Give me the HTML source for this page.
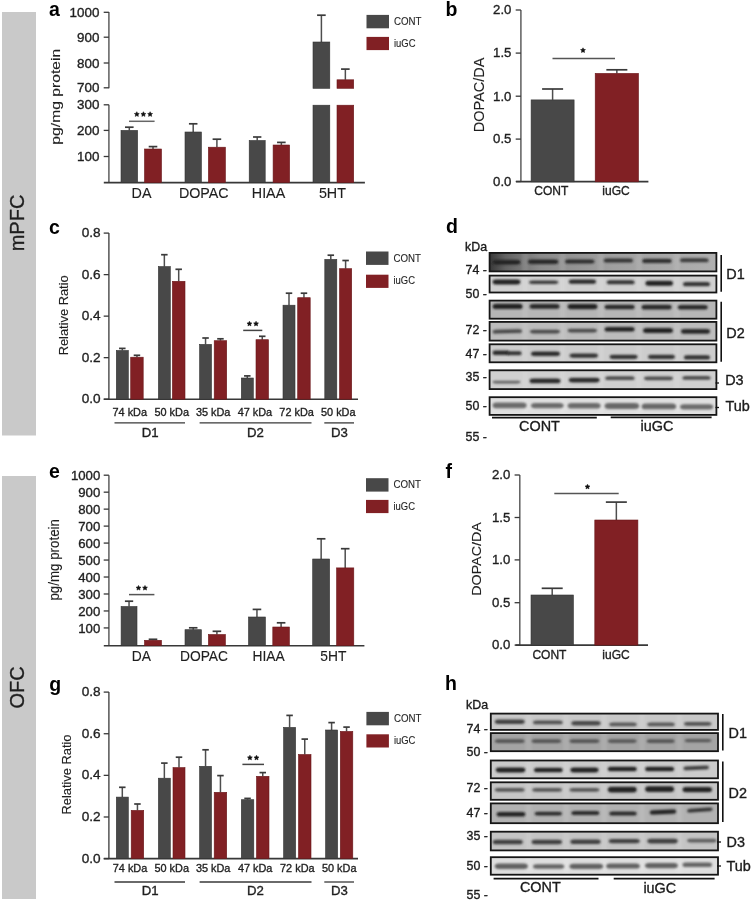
<!DOCTYPE html><html><head><meta charset="utf-8"><style>html,body{margin:0;padding:0;background:#fff;}svg{display:block;filter:blur(0.3px);}text{opacity:0.995;font-family:"Liberation Sans",sans-serif;stroke:#1e1e1e;stroke-width:0.35px;paint-order:stroke;}</style></head><body>
<svg width="752" height="902" viewBox="0 0 752 902">
<defs><filter id="bl" x="-20%" y="-100%" width="140%" height="300%"><feGaussianBlur stdDeviation="0.8"/></filter><filter id="bl2" x="-20%" y="-100%" width="140%" height="300%"><feGaussianBlur stdDeviation="0.7"/></filter></defs>
<rect x="0" y="0" width="752" height="902" fill="#fff" />
<rect x="2" y="12" width="34" height="423.5" fill="#c9c9c9" />
<rect x="2" y="476" width="34" height="423" fill="#c9c9c9" />
<text transform="translate(24.3,223) rotate(-90)" x="0" y="0" font-size="20" text-anchor="middle" fill="#1e1e1e" >mPFC</text>
<text transform="translate(24.3,687.5) rotate(-90)" x="0" y="0" font-size="20" text-anchor="middle" fill="#1e1e1e" >OFC</text>
<text x="49" y="16.0" font-size="19.5" text-anchor="start" fill="#000" font-weight="bold" style="stroke-width:0">a</text>
<text x="445.6" y="15.9" font-size="19.5" text-anchor="start" fill="#000" font-weight="bold" style="stroke-width:0">b</text>
<text x="49.0" y="233.7" font-size="19.5" text-anchor="start" fill="#000" font-weight="bold" style="stroke-width:0">c</text>
<text x="446" y="232.8" font-size="19.5" text-anchor="start" fill="#000" font-weight="bold" style="stroke-width:0">d</text>
<text x="49" y="477.6" font-size="19.5" text-anchor="start" fill="#000" font-weight="bold" style="stroke-width:0">e</text>
<text x="445.6" y="478" font-size="19.5" text-anchor="start" fill="#000" font-weight="bold" style="stroke-width:0">f</text>
<text x="49.2" y="690.6" font-size="19.5" text-anchor="start" fill="#000" font-weight="bold" style="stroke-width:0">g</text>
<text x="445" y="690.4" font-size="19.5" text-anchor="start" fill="#000" font-weight="bold" style="stroke-width:0">h</text>
<line x1="108.9" y1="12" x2="108.9" y2="88.3" stroke="#5e5e5e" stroke-width="1.5"/>
<line x1="108.9" y1="104.8" x2="108.9" y2="182.3" stroke="#5e5e5e" stroke-width="1.5"/>
<line x1="103.7" y1="12.3" x2="108.9" y2="12.3" stroke="#383838" stroke-width="1.3"/>
<text x="99.4" y="16.9" font-size="13.4" text-anchor="end" fill="#1e1e1e" >1000</text>
<line x1="103.7" y1="37.2" x2="108.9" y2="37.2" stroke="#383838" stroke-width="1.3"/>
<text x="99.4" y="41.8" font-size="13.4" text-anchor="end" fill="#1e1e1e" >900</text>
<line x1="103.7" y1="63" x2="108.9" y2="63" stroke="#383838" stroke-width="1.3"/>
<text x="99.4" y="67.6" font-size="13.4" text-anchor="end" fill="#1e1e1e" >800</text>
<line x1="103.7" y1="87.8" x2="108.9" y2="87.8" stroke="#383838" stroke-width="1.3"/>
<text x="99.4" y="92.4" font-size="13.4" text-anchor="end" fill="#1e1e1e" >700</text>
<line x1="103.7" y1="104.8" x2="108.9" y2="104.8" stroke="#383838" stroke-width="1.3"/>
<text x="99.4" y="109.2" font-size="13.4" text-anchor="end" fill="#1e1e1e" >300</text>
<line x1="103.7" y1="130.4" x2="108.9" y2="130.4" stroke="#383838" stroke-width="1.3"/>
<text x="99.4" y="134.8" font-size="13.4" text-anchor="end" fill="#1e1e1e" >200</text>
<line x1="103.7" y1="156.5" x2="108.9" y2="156.5" stroke="#383838" stroke-width="1.3"/>
<text x="99.4" y="160.9" font-size="13.4" text-anchor="end" fill="#1e1e1e" >100</text>
<line x1="103.8" y1="182.6" x2="364.9" y2="182.6" stroke="#383838" stroke-width="1.6"/>
<line x1="129.3" y1="130.4" x2="129.3" y2="127.2" stroke="#4e4e4e" stroke-width="1.5"/>
<line x1="125.00000000000001" y1="127.2" x2="133.60000000000002" y2="127.2" stroke="#3a3a3a" stroke-width="1.7"/>
<rect x="121" y="130.4" width="16.599999999999994" height="52.19999999999999" fill="#484848" stroke="#333333" stroke-width="0.6"/>
<line x1="153.0" y1="149" x2="153.0" y2="146.6" stroke="#4e4e4e" stroke-width="1.5"/>
<line x1="148.7" y1="146.6" x2="157.3" y2="146.6" stroke="#3a3a3a" stroke-width="1.7"/>
<rect x="144.5" y="149" width="17.0" height="33.599999999999994" fill="#812024" stroke="#6a171a" stroke-width="0.6"/>
<line x1="193.2" y1="132" x2="193.2" y2="123.8" stroke="#4e4e4e" stroke-width="1.5"/>
<line x1="188.93599999999998" y1="123.8" x2="197.464" y2="123.8" stroke="#3a3a3a" stroke-width="1.7"/>
<rect x="185" y="132" width="16.400000000000006" height="50.599999999999994" fill="#484848" stroke="#333333" stroke-width="0.6"/>
<line x1="216.9" y1="147.2" x2="216.9" y2="139.2" stroke="#4e4e4e" stroke-width="1.5"/>
<line x1="212.6" y1="139.2" x2="221.20000000000002" y2="139.2" stroke="#3a3a3a" stroke-width="1.7"/>
<rect x="208.4" y="147.2" width="17.0" height="35.400000000000006" fill="#812024" stroke="#6a171a" stroke-width="0.6"/>
<line x1="257.2" y1="140.5" x2="257.2" y2="137" stroke="#4e4e4e" stroke-width="1.5"/>
<line x1="253.04" y1="137" x2="261.36" y2="137" stroke="#3a3a3a" stroke-width="1.7"/>
<rect x="249.2" y="140.5" width="16.0" height="42.099999999999994" fill="#484848" stroke="#333333" stroke-width="0.6"/>
<line x1="281.35" y1="145" x2="281.35" y2="142.4" stroke="#4e4e4e" stroke-width="1.5"/>
<line x1="277.06" y1="142.4" x2="285.64000000000004" y2="142.4" stroke="#3a3a3a" stroke-width="1.7"/>
<rect x="273.1" y="145" width="16.5" height="37.599999999999994" fill="#812024" stroke="#6a171a" stroke-width="0.6"/>
<rect x="313" y="105.2" width="16.80000000000001" height="77.39999999999999" fill="#484848" stroke="#333333" stroke-width="0.6"/>
<rect x="337" y="105.2" width="16.69999999999999" height="77.39999999999999" fill="#812024" stroke="#6a171a" stroke-width="0.6"/>
<line x1="321.4" y1="42" x2="321.4" y2="15.2" stroke="#4e4e4e" stroke-width="1.5"/>
<line x1="317.09999999999997" y1="15.2" x2="325.7" y2="15.2" stroke="#3a3a3a" stroke-width="1.7"/>
<rect x="313" y="42" width="16.80000000000001" height="46.3" fill="#484848" stroke="#333333" stroke-width="0.6"/>
<line x1="345.35" y1="79.8" x2="345.35" y2="69.1" stroke="#4e4e4e" stroke-width="1.5"/>
<line x1="341.05" y1="69.1" x2="349.65000000000003" y2="69.1" stroke="#3a3a3a" stroke-width="1.7"/>
<rect x="337" y="79.8" width="16.69999999999999" height="8.5" fill="#812024" stroke="#6a171a" stroke-width="0.6"/>
<line x1="129" y1="121.3" x2="154.6" y2="121.3" stroke="#666" stroke-width="1.5"/>
<polygon points="136.80,111.70 137.56,113.25 139.27,113.50 138.04,114.70 138.33,116.40 136.80,115.60 135.27,116.40 135.56,114.70 134.33,113.50 136.04,113.25" fill="#111" stroke="#111" stroke-width="0.5" stroke-linejoin="round"/>
<polygon points="143.40,111.70 144.16,113.25 145.87,113.50 144.64,114.70 144.93,116.40 143.40,115.60 141.87,116.40 142.16,114.70 140.93,113.50 142.64,113.25" fill="#111" stroke="#111" stroke-width="0.5" stroke-linejoin="round"/>
<polygon points="150.10,111.70 150.86,113.25 152.57,113.50 151.34,114.70 151.63,116.40 150.10,115.60 148.57,116.40 148.86,114.70 147.63,113.50 149.34,113.25" fill="#111" stroke="#111" stroke-width="0.5" stroke-linejoin="round"/>
<text x="141.5" y="197.6" font-size="14.3" text-anchor="middle" fill="#1e1e1e" style="stroke-width:0.12px">DA</text>
<text x="203.8" y="197.6" font-size="14.3" text-anchor="middle" fill="#1e1e1e" style="stroke-width:0.12px">DOPAC</text>
<text x="268.5" y="197.6" font-size="14.3" text-anchor="middle" fill="#1e1e1e" style="stroke-width:0.12px">HIAA</text>
<text x="332.4" y="197.6" font-size="14.3" text-anchor="middle" fill="#1e1e1e" style="stroke-width:0.12px">5HT</text>
<text transform="translate(59.5,96.7) rotate(-90)" x="0" y="0" font-size="12.6" text-anchor="middle" fill="#1e1e1e" textLength="96" lengthAdjust="spacingAndGlyphs" style="stroke-width:0.12px">pg/mg protein</text>
<rect x="366.5" y="14.9" width="22.5" height="13.4" fill="#484848" />
<rect x="366.5" y="36.9" width="22.5" height="13.2" fill="#812024" />
<text x="394.0" y="25.2" font-size="10" text-anchor="start" fill="#1e1e1e" textLength="27.5" lengthAdjust="spacingAndGlyphs" style="stroke-width:0.1px">CONT</text>
<text x="394.0" y="47.4" font-size="10" text-anchor="start" fill="#1e1e1e" textLength="21.5" lengthAdjust="spacingAndGlyphs" style="stroke-width:0.1px">iuGC</text>
<line x1="520.9" y1="10" x2="520.9" y2="181.8" stroke="#5e5e5e" stroke-width="1.5"/>
<line x1="515.6999999999999" y1="10" x2="520.9" y2="10" stroke="#383838" stroke-width="1.3"/>
<text x="511.3999999999999" y="14.33" font-size="13.2" text-anchor="end" fill="#1e1e1e" >2.0</text>
<line x1="515.6999999999999" y1="53.1" x2="520.9" y2="53.1" stroke="#383838" stroke-width="1.3"/>
<text x="511.3999999999999" y="57.43" font-size="13.2" text-anchor="end" fill="#1e1e1e" >1.5</text>
<line x1="515.6999999999999" y1="96.2" x2="520.9" y2="96.2" stroke="#383838" stroke-width="1.3"/>
<text x="511.3999999999999" y="100.53" font-size="13.2" text-anchor="end" fill="#1e1e1e" >1.0</text>
<line x1="515.6999999999999" y1="139.1" x2="520.9" y2="139.1" stroke="#383838" stroke-width="1.3"/>
<text x="511.3999999999999" y="143.43" font-size="13.2" text-anchor="end" fill="#1e1e1e" >0.5</text>
<line x1="515.6999999999999" y1="181.5" x2="520.9" y2="181.5" stroke="#383838" stroke-width="1.3"/>
<text x="511.3999999999999" y="185.83" font-size="13.2" text-anchor="end" fill="#1e1e1e" >0.0</text>
<line x1="516" y1="181.6" x2="648.4" y2="181.6" stroke="#383838" stroke-width="1.6"/>
<line x1="552.6" y1="99.9" x2="552.6" y2="89" stroke="#4e4e4e" stroke-width="1.5"/>
<line x1="542.1" y1="89" x2="563.1" y2="89" stroke="#3a3a3a" stroke-width="1.7"/>
<rect x="531.1" y="99.9" width="43.0" height="81.9" fill="#484848" stroke="#333333" stroke-width="0.6"/>
<line x1="616.85" y1="73.4" x2="616.85" y2="69.8" stroke="#4e4e4e" stroke-width="1.5"/>
<line x1="606.35" y1="69.8" x2="627.35" y2="69.8" stroke="#3a3a3a" stroke-width="1.7"/>
<rect x="595.2" y="73.4" width="43.299999999999955" height="108.4" fill="#812024" stroke="#6a171a" stroke-width="0.6"/>
<line x1="552.5" y1="58.5" x2="615" y2="58.5" stroke="#555" stroke-width="1.5"/>
<polygon points="583.00,47.80 583.76,49.35 585.47,49.60 584.24,50.80 584.53,52.50 583.00,51.70 581.47,52.50 581.76,50.80 580.53,49.60 582.24,49.35" fill="#111" stroke="#111" stroke-width="0.5" stroke-linejoin="round"/>
<text x="551.3" y="195.1" font-size="12" text-anchor="middle" fill="#1e1e1e" >CONT</text>
<text x="616" y="195.1" font-size="12" text-anchor="middle" fill="#1e1e1e" >iuGC</text>
<text transform="translate(484.4,94.9) rotate(-90)" x="0" y="0" font-size="14" text-anchor="middle" fill="#1e1e1e" textLength="74.5" lengthAdjust="spacingAndGlyphs" style="stroke-width:0.12px">DOPAC/DA</text>
<line x1="108.9" y1="233.1" x2="108.9" y2="399.2" stroke="#383838" stroke-width="1.3"/>
<line x1="103.7" y1="233.1" x2="108.9" y2="233.1" stroke="#383838" stroke-width="1.3"/>
<text x="100.6" y="237.17" font-size="13.6" text-anchor="end" fill="#1e1e1e" >0.8</text>
<line x1="103.7" y1="274.62" x2="108.9" y2="274.62" stroke="#383838" stroke-width="1.3"/>
<text x="100.6" y="278.69" font-size="13.6" text-anchor="end" fill="#1e1e1e" >0.6</text>
<line x1="103.7" y1="316.14" x2="108.9" y2="316.14" stroke="#383838" stroke-width="1.3"/>
<text x="100.6" y="320.21" font-size="13.6" text-anchor="end" fill="#1e1e1e" >0.4</text>
<line x1="103.7" y1="357.65999999999997" x2="108.9" y2="357.65999999999997" stroke="#383838" stroke-width="1.3"/>
<text x="100.6" y="361.73" font-size="13.6" text-anchor="end" fill="#1e1e1e" >0.2</text>
<line x1="103.7" y1="399.18" x2="108.9" y2="399.18" stroke="#383838" stroke-width="1.3"/>
<text x="100.6" y="403.25" font-size="13.6" text-anchor="end" fill="#1e1e1e" >0.0</text>
<line x1="103.8" y1="399.2" x2="358" y2="399.2" stroke="#383838" stroke-width="1.6"/>
<line x1="122.30000000000001" y1="350.5" x2="122.30000000000001" y2="348.4" stroke="#4e4e4e" stroke-width="1.5"/>
<line x1="119.05000000000001" y1="348.4" x2="125.55000000000001" y2="348.4" stroke="#3a3a3a" stroke-width="1.7"/>
<rect x="116.3" y="350.5" width="12.000000000000014" height="48.69999999999999" fill="#484848" stroke="#333333" stroke-width="0.6"/>
<line x1="136.95" y1="357.2" x2="136.95" y2="355.3" stroke="#4e4e4e" stroke-width="1.5"/>
<line x1="133.7" y1="355.3" x2="140.2" y2="355.3" stroke="#3a3a3a" stroke-width="1.7"/>
<rect x="130.7" y="357.2" width="12.5" height="42.0" fill="#812024" stroke="#6a171a" stroke-width="0.6"/>
<line x1="164.35000000000002" y1="266.6" x2="164.35000000000002" y2="254.7" stroke="#4e4e4e" stroke-width="1.5"/>
<line x1="161.10000000000002" y1="254.7" x2="167.60000000000002" y2="254.7" stroke="#3a3a3a" stroke-width="1.7"/>
<rect x="158.4" y="266.6" width="11.900000000000006" height="132.59999999999997" fill="#484848" stroke="#333333" stroke-width="0.6"/>
<line x1="178.7" y1="281.3" x2="178.7" y2="269.3" stroke="#4e4e4e" stroke-width="1.5"/>
<line x1="175.45" y1="269.3" x2="181.95" y2="269.3" stroke="#3a3a3a" stroke-width="1.7"/>
<rect x="172.4" y="281.3" width="12.599999999999994" height="117.89999999999998" fill="#812024" stroke="#6a171a" stroke-width="0.6"/>
<line x1="205.55" y1="344.4" x2="205.55" y2="338" stroke="#4e4e4e" stroke-width="1.5"/>
<line x1="202.3" y1="338" x2="208.8" y2="338" stroke="#3a3a3a" stroke-width="1.7"/>
<rect x="199.6" y="344.4" width="11.900000000000006" height="54.80000000000001" fill="#484848" stroke="#333333" stroke-width="0.6"/>
<line x1="220.45" y1="340.7" x2="220.45" y2="338.8" stroke="#4e4e4e" stroke-width="1.5"/>
<line x1="217.2" y1="338.8" x2="223.7" y2="338.8" stroke="#3a3a3a" stroke-width="1.7"/>
<rect x="214.2" y="340.7" width="12.5" height="58.5" fill="#812024" stroke="#6a171a" stroke-width="0.6"/>
<line x1="247.3" y1="378" x2="247.3" y2="375.9" stroke="#4e4e4e" stroke-width="1.5"/>
<line x1="244.05" y1="375.9" x2="250.55" y2="375.9" stroke="#3a3a3a" stroke-width="1.7"/>
<rect x="241.3" y="378" width="12.0" height="21.19999999999999" fill="#484848" stroke="#333333" stroke-width="0.6"/>
<line x1="262.25" y1="339.7" x2="262.25" y2="336.3" stroke="#4e4e4e" stroke-width="1.5"/>
<line x1="259.0" y1="336.3" x2="265.5" y2="336.3" stroke="#3a3a3a" stroke-width="1.7"/>
<rect x="256" y="339.7" width="12.5" height="59.5" fill="#812024" stroke="#6a171a" stroke-width="0.6"/>
<line x1="289.0" y1="305.2" x2="289.0" y2="293.2" stroke="#4e4e4e" stroke-width="1.5"/>
<line x1="285.75" y1="293.2" x2="292.25" y2="293.2" stroke="#3a3a3a" stroke-width="1.7"/>
<rect x="283" y="305.2" width="12" height="94.0" fill="#484848" stroke="#333333" stroke-width="0.6"/>
<line x1="303.95" y1="297.7" x2="303.95" y2="293.2" stroke="#4e4e4e" stroke-width="1.5"/>
<line x1="300.7" y1="293.2" x2="307.2" y2="293.2" stroke="#3a3a3a" stroke-width="1.7"/>
<rect x="297.7" y="297.7" width="12.5" height="101.5" fill="#812024" stroke="#6a171a" stroke-width="0.6"/>
<line x1="330.8" y1="259.4" x2="330.8" y2="255.2" stroke="#4e4e4e" stroke-width="1.5"/>
<line x1="327.55" y1="255.2" x2="334.05" y2="255.2" stroke="#3a3a3a" stroke-width="1.7"/>
<rect x="324.8" y="259.4" width="12.0" height="139.8" fill="#484848" stroke="#333333" stroke-width="0.6"/>
<line x1="345.6" y1="268.7" x2="345.6" y2="260.5" stroke="#4e4e4e" stroke-width="1.5"/>
<line x1="342.35" y1="260.5" x2="348.85" y2="260.5" stroke="#3a3a3a" stroke-width="1.7"/>
<rect x="339.5" y="268.7" width="12.199999999999989" height="130.5" fill="#812024" stroke="#6a171a" stroke-width="0.6"/>
<line x1="243.2" y1="330.4" x2="262.3" y2="330.4" stroke="#444" stroke-width="1.5"/>
<polygon points="249.45,321.20 250.21,322.75 251.92,323.00 250.69,324.20 250.98,325.90 249.45,325.10 247.92,325.90 248.21,324.20 246.98,323.00 248.69,322.75" fill="#111" stroke="#111" stroke-width="0.5" stroke-linejoin="round"/>
<polygon points="256.05,321.20 256.81,322.75 258.52,323.00 257.29,324.20 257.58,325.90 256.05,325.10 254.52,325.90 254.81,324.20 253.58,323.00 255.29,322.75" fill="#111" stroke="#111" stroke-width="0.5" stroke-linejoin="round"/>
<text x="129.75" y="416.3" font-size="11.6" text-anchor="middle" fill="#1e1e1e" textLength="34.5" lengthAdjust="spacingAndGlyphs" >74 kDa</text>
<text x="171.7" y="416.3" font-size="11.6" text-anchor="middle" fill="#1e1e1e" textLength="34.5" lengthAdjust="spacingAndGlyphs" >50 kDa</text>
<text x="213.14999999999998" y="416.3" font-size="11.6" text-anchor="middle" fill="#1e1e1e" textLength="34.5" lengthAdjust="spacingAndGlyphs" >35 kDa</text>
<text x="254.9" y="416.3" font-size="11.6" text-anchor="middle" fill="#1e1e1e" textLength="34.5" lengthAdjust="spacingAndGlyphs" >47 kDa</text>
<text x="296.6" y="416.3" font-size="11.6" text-anchor="middle" fill="#1e1e1e" textLength="34.5" lengthAdjust="spacingAndGlyphs" >72 kDa</text>
<text x="338.25" y="416.3" font-size="11.6" text-anchor="middle" fill="#1e1e1e" textLength="34.5" lengthAdjust="spacingAndGlyphs" >50 kDa</text>
<line x1="114.5" y1="422.9" x2="185" y2="422.9" stroke="#383838" stroke-width="1.3"/>
<line x1="199.6" y1="422.9" x2="311.5" y2="422.9" stroke="#383838" stroke-width="1.3"/>
<line x1="324.3" y1="422.9" x2="354" y2="422.9" stroke="#383838" stroke-width="1.3"/>
<text x="150.2" y="437.2" font-size="13.2" text-anchor="middle" fill="#1e1e1e" >D1</text>
<text x="255.5" y="437.2" font-size="13.2" text-anchor="middle" fill="#1e1e1e" >D2</text>
<text x="339.5" y="437.2" font-size="13.2" text-anchor="middle" fill="#1e1e1e" >D3</text>
<text transform="translate(67.8,315.34999999999997) rotate(-90)" x="0" y="0" font-size="13.4" text-anchor="middle" fill="#1e1e1e" textLength="80" lengthAdjust="spacingAndGlyphs" style="stroke-width:0.12px">Relative Ratio</text>
<rect x="366" y="251.5" width="22.5" height="13.4" fill="#484848" />
<rect x="366" y="274.7" width="22.5" height="13.2" fill="#812024" />
<text x="393.5" y="261.5" font-size="10" text-anchor="start" fill="#1e1e1e" textLength="27.5" lengthAdjust="spacingAndGlyphs" style="stroke-width:0.1px">CONT</text>
<text x="393.5" y="284.4" font-size="10" text-anchor="start" fill="#1e1e1e" textLength="21.5" lengthAdjust="spacingAndGlyphs" style="stroke-width:0.1px">iuGC</text>
<line x1="108.9" y1="475.2" x2="108.9" y2="645.7" stroke="#5e5e5e" stroke-width="1.5"/>
<line x1="103.7" y1="475.2" x2="108.9" y2="475.2" stroke="#383838" stroke-width="1.3"/>
<text x="100.3" y="479.93" font-size="13.2" text-anchor="end" fill="#1e1e1e" >1000</text>
<line x1="103.7" y1="492.16999999999996" x2="108.9" y2="492.16999999999996" stroke="#383838" stroke-width="1.3"/>
<text x="100.3" y="496.9" font-size="13.2" text-anchor="end" fill="#1e1e1e" >900</text>
<line x1="103.7" y1="509.14" x2="108.9" y2="509.14" stroke="#383838" stroke-width="1.3"/>
<text x="100.3" y="513.87" font-size="13.2" text-anchor="end" fill="#1e1e1e" >800</text>
<line x1="103.7" y1="526.11" x2="108.9" y2="526.11" stroke="#383838" stroke-width="1.3"/>
<text x="100.3" y="530.84" font-size="13.2" text-anchor="end" fill="#1e1e1e" >700</text>
<line x1="103.7" y1="543.0799999999999" x2="108.9" y2="543.0799999999999" stroke="#383838" stroke-width="1.3"/>
<text x="100.3" y="547.81" font-size="13.2" text-anchor="end" fill="#1e1e1e" >600</text>
<line x1="103.7" y1="560.05" x2="108.9" y2="560.05" stroke="#383838" stroke-width="1.3"/>
<text x="100.3" y="564.78" font-size="13.2" text-anchor="end" fill="#1e1e1e" >500</text>
<line x1="103.7" y1="577.02" x2="108.9" y2="577.02" stroke="#383838" stroke-width="1.3"/>
<text x="100.3" y="581.75" font-size="13.2" text-anchor="end" fill="#1e1e1e" >400</text>
<line x1="103.7" y1="593.99" x2="108.9" y2="593.99" stroke="#383838" stroke-width="1.3"/>
<text x="100.3" y="598.72" font-size="13.2" text-anchor="end" fill="#1e1e1e" >300</text>
<line x1="103.7" y1="610.96" x2="108.9" y2="610.96" stroke="#383838" stroke-width="1.3"/>
<text x="100.3" y="615.69" font-size="13.2" text-anchor="end" fill="#1e1e1e" >200</text>
<line x1="103.7" y1="627.93" x2="108.9" y2="627.93" stroke="#383838" stroke-width="1.3"/>
<text x="100.3" y="632.66" font-size="13.2" text-anchor="end" fill="#1e1e1e" >100</text>
<line x1="103.8" y1="645.7" x2="364.4" y2="645.7" stroke="#383838" stroke-width="1.6"/>
<line x1="129.05" y1="606.5" x2="129.05" y2="601.2" stroke="#4e4e4e" stroke-width="1.5"/>
<line x1="124.91600000000001" y1="601.2" x2="133.18400000000003" y2="601.2" stroke="#3a3a3a" stroke-width="1.7"/>
<rect x="121.1" y="606.5" width="15.900000000000006" height="39.200000000000045" fill="#484848" stroke="#333333" stroke-width="0.6"/>
<line x1="153.0" y1="640.3" x2="153.0" y2="639.3" stroke="#4e4e4e" stroke-width="1.5"/>
<line x1="148.7" y1="639.3" x2="157.3" y2="639.3" stroke="#3a3a3a" stroke-width="1.7"/>
<rect x="144.5" y="640.3" width="17.0" height="5.400000000000091" fill="#812024" stroke="#6a171a" stroke-width="0.6"/>
<line x1="193.2" y1="629.7" x2="193.2" y2="627.8" stroke="#4e4e4e" stroke-width="1.5"/>
<line x1="188.93599999999998" y1="627.8" x2="197.464" y2="627.8" stroke="#3a3a3a" stroke-width="1.7"/>
<rect x="185" y="629.7" width="16.400000000000006" height="16.0" fill="#484848" stroke="#333333" stroke-width="0.6"/>
<line x1="216.9" y1="634.5" x2="216.9" y2="631.3" stroke="#4e4e4e" stroke-width="1.5"/>
<line x1="212.6" y1="631.3" x2="221.20000000000002" y2="631.3" stroke="#3a3a3a" stroke-width="1.7"/>
<rect x="208.4" y="634.5" width="17.0" height="11.200000000000045" fill="#812024" stroke="#6a171a" stroke-width="0.6"/>
<line x1="256.95" y1="617" x2="256.95" y2="609.4" stroke="#4e4e4e" stroke-width="1.5"/>
<line x1="252.64999999999998" y1="609.4" x2="261.25" y2="609.4" stroke="#3a3a3a" stroke-width="1.7"/>
<rect x="248.5" y="617" width="16.899999999999977" height="28.700000000000045" fill="#484848" stroke="#333333" stroke-width="0.6"/>
<line x1="281.1" y1="627" x2="281.1" y2="622.8" stroke="#4e4e4e" stroke-width="1.5"/>
<line x1="276.8" y1="622.8" x2="285.40000000000003" y2="622.8" stroke="#3a3a3a" stroke-width="1.7"/>
<rect x="272.8" y="627" width="16.599999999999966" height="18.700000000000045" fill="#812024" stroke="#6a171a" stroke-width="0.6"/>
<line x1="321.15" y1="559" x2="321.15" y2="538.8" stroke="#4e4e4e" stroke-width="1.5"/>
<line x1="316.84999999999997" y1="538.8" x2="325.45" y2="538.8" stroke="#3a3a3a" stroke-width="1.7"/>
<rect x="312.7" y="559" width="16.900000000000034" height="86.70000000000005" fill="#484848" stroke="#333333" stroke-width="0.6"/>
<line x1="345.20000000000005" y1="567.9" x2="345.20000000000005" y2="548.7" stroke="#4e4e4e" stroke-width="1.5"/>
<line x1="340.90000000000003" y1="548.7" x2="349.50000000000006" y2="548.7" stroke="#3a3a3a" stroke-width="1.7"/>
<rect x="336.6" y="567.9" width="17.19999999999999" height="77.80000000000007" fill="#812024" stroke="#6a171a" stroke-width="0.6"/>
<line x1="129" y1="594.6" x2="154.4" y2="594.6" stroke="#555" stroke-width="1.5"/>
<polygon points="138.50,585.40 139.26,586.95 140.97,587.20 139.74,588.40 140.03,590.10 138.50,589.30 136.97,590.10 137.26,588.40 136.03,587.20 137.74,586.95" fill="#111" stroke="#111" stroke-width="0.5" stroke-linejoin="round"/>
<polygon points="145.00,585.40 145.76,586.95 147.47,587.20 146.24,588.40 146.53,590.10 145.00,589.30 143.47,590.10 143.76,588.40 142.53,587.20 144.24,586.95" fill="#111" stroke="#111" stroke-width="0.5" stroke-linejoin="round"/>
<text x="141.3" y="660.6" font-size="13.8" text-anchor="middle" fill="#1e1e1e" style="stroke-width:0.12px">DA</text>
<text x="204" y="660.6" font-size="13.8" text-anchor="middle" fill="#1e1e1e" style="stroke-width:0.12px">DOPAC</text>
<text x="268.6" y="660.6" font-size="13.8" text-anchor="middle" fill="#1e1e1e" style="stroke-width:0.12px">HIAA</text>
<text x="333.4" y="660.6" font-size="13.8" text-anchor="middle" fill="#1e1e1e" style="stroke-width:0.12px">5HT</text>
<text transform="translate(59.0,559.8) rotate(-90)" x="0" y="0" font-size="14" text-anchor="middle" fill="#1e1e1e" textLength="81.5" lengthAdjust="spacingAndGlyphs" style="stroke-width:0.12px">pg/mg protein</text>
<rect x="366" y="478.2" width="22.5" height="13.4" fill="#484848" />
<rect x="366" y="499.9" width="22.5" height="13.2" fill="#812024" />
<text x="393.5" y="488.2" font-size="10" text-anchor="start" fill="#1e1e1e" textLength="27.5" lengthAdjust="spacingAndGlyphs" style="stroke-width:0.1px">CONT</text>
<text x="393.5" y="509.7" font-size="10" text-anchor="start" fill="#1e1e1e" textLength="21.5" lengthAdjust="spacingAndGlyphs" style="stroke-width:0.1px">iuGC</text>
<line x1="519.8" y1="475" x2="519.8" y2="645.1" stroke="#5e5e5e" stroke-width="1.5"/>
<line x1="514.5999999999999" y1="475" x2="519.8" y2="475" stroke="#383838" stroke-width="1.3"/>
<text x="510.2999999999999" y="479.33" font-size="13.2" text-anchor="end" fill="#1e1e1e" >2.0</text>
<line x1="514.5999999999999" y1="517.5" x2="519.8" y2="517.5" stroke="#383838" stroke-width="1.3"/>
<text x="510.2999999999999" y="521.83" font-size="13.2" text-anchor="end" fill="#1e1e1e" >1.5</text>
<line x1="514.5999999999999" y1="559.9" x2="519.8" y2="559.9" stroke="#383838" stroke-width="1.3"/>
<text x="510.2999999999999" y="564.23" font-size="13.2" text-anchor="end" fill="#1e1e1e" >1.0</text>
<line x1="514.5999999999999" y1="602.7" x2="519.8" y2="602.7" stroke="#383838" stroke-width="1.3"/>
<text x="510.2999999999999" y="607.03" font-size="13.2" text-anchor="end" fill="#1e1e1e" >0.5</text>
<line x1="514.5999999999999" y1="645.1" x2="519.8" y2="645.1" stroke="#383838" stroke-width="1.3"/>
<text x="510.2999999999999" y="649.43" font-size="13.2" text-anchor="end" fill="#1e1e1e" >0.0</text>
<line x1="515.5" y1="645.1" x2="648" y2="645.1" stroke="#383838" stroke-width="1.6"/>
<line x1="552.2" y1="595" x2="552.2" y2="588.3" stroke="#4e4e4e" stroke-width="1.5"/>
<line x1="541.7" y1="588.3" x2="562.7" y2="588.3" stroke="#3a3a3a" stroke-width="1.7"/>
<rect x="531" y="595" width="42.39999999999998" height="50.10000000000002" fill="#484848" stroke="#333333" stroke-width="0.6"/>
<line x1="616.3499999999999" y1="520" x2="616.3499999999999" y2="502.1" stroke="#4e4e4e" stroke-width="1.5"/>
<line x1="605.8499999999999" y1="502.1" x2="626.8499999999999" y2="502.1" stroke="#3a3a3a" stroke-width="1.7"/>
<rect x="594.8" y="520" width="43.10000000000002" height="125.10000000000002" fill="#812024" stroke="#6a171a" stroke-width="0.6"/>
<line x1="554.3" y1="493.5" x2="618.7" y2="493.5" stroke="#555" stroke-width="1.5"/>
<polygon points="587.50,484.20 588.26,485.75 589.97,486.00 588.74,487.20 589.03,488.90 587.50,488.10 585.97,488.90 586.26,487.20 585.03,486.00 586.74,485.75" fill="#111" stroke="#111" stroke-width="0.5" stroke-linejoin="round"/>
<text x="549.4" y="659" font-size="12" text-anchor="middle" fill="#1e1e1e" >CONT</text>
<text x="616" y="659" font-size="12" text-anchor="middle" fill="#1e1e1e" >iuGC</text>
<text transform="translate(480.5,559) rotate(-90)" x="0" y="0" font-size="13.4" text-anchor="middle" fill="#1e1e1e" textLength="73.5" lengthAdjust="spacingAndGlyphs" style="stroke-width:0.12px">DOPAC/DA</text>
<line x1="108.9" y1="692.1" x2="108.9" y2="858.6" stroke="#383838" stroke-width="1.3"/>
<line x1="103.7" y1="692.1" x2="108.9" y2="692.1" stroke="#383838" stroke-width="1.3"/>
<text x="100.6" y="696.17" font-size="13.6" text-anchor="end" fill="#1e1e1e" >0.8</text>
<line x1="103.7" y1="733.73" x2="108.9" y2="733.73" stroke="#383838" stroke-width="1.3"/>
<text x="100.6" y="737.8" font-size="13.6" text-anchor="end" fill="#1e1e1e" >0.6</text>
<line x1="103.7" y1="775.36" x2="108.9" y2="775.36" stroke="#383838" stroke-width="1.3"/>
<text x="100.6" y="779.43" font-size="13.6" text-anchor="end" fill="#1e1e1e" >0.4</text>
<line x1="103.7" y1="816.99" x2="108.9" y2="816.99" stroke="#383838" stroke-width="1.3"/>
<text x="100.6" y="821.06" font-size="13.6" text-anchor="end" fill="#1e1e1e" >0.2</text>
<line x1="103.7" y1="858.62" x2="108.9" y2="858.62" stroke="#383838" stroke-width="1.3"/>
<text x="100.6" y="862.69" font-size="13.6" text-anchor="end" fill="#1e1e1e" >0.0</text>
<line x1="103.8" y1="858.6" x2="358" y2="858.6" stroke="#383838" stroke-width="1.6"/>
<line x1="122.30000000000001" y1="797.1" x2="122.30000000000001" y2="787.3" stroke="#4e4e4e" stroke-width="1.5"/>
<line x1="119.05000000000001" y1="787.3" x2="125.55000000000001" y2="787.3" stroke="#3a3a3a" stroke-width="1.7"/>
<rect x="116.3" y="797.1" width="12.000000000000014" height="61.5" fill="#484848" stroke="#333333" stroke-width="0.6"/>
<line x1="137.45" y1="810.4" x2="137.45" y2="804" stroke="#4e4e4e" stroke-width="1.5"/>
<line x1="134.2" y1="804" x2="140.7" y2="804" stroke="#3a3a3a" stroke-width="1.7"/>
<rect x="131.2" y="810.4" width="12.5" height="48.200000000000045" fill="#812024" stroke="#6a171a" stroke-width="0.6"/>
<line x1="164.35000000000002" y1="778.2" x2="164.35000000000002" y2="763.1" stroke="#4e4e4e" stroke-width="1.5"/>
<line x1="161.10000000000002" y1="763.1" x2="167.60000000000002" y2="763.1" stroke="#3a3a3a" stroke-width="1.7"/>
<rect x="158.4" y="778.2" width="11.900000000000006" height="80.39999999999998" fill="#484848" stroke="#333333" stroke-width="0.6"/>
<line x1="179.0" y1="767.6" x2="179.0" y2="757.2" stroke="#4e4e4e" stroke-width="1.5"/>
<line x1="175.75" y1="757.2" x2="182.25" y2="757.2" stroke="#3a3a3a" stroke-width="1.7"/>
<rect x="173" y="767.6" width="12" height="91.0" fill="#812024" stroke="#6a171a" stroke-width="0.6"/>
<line x1="205.55" y1="766.3" x2="205.55" y2="749.8" stroke="#4e4e4e" stroke-width="1.5"/>
<line x1="202.3" y1="749.8" x2="208.8" y2="749.8" stroke="#3a3a3a" stroke-width="1.7"/>
<rect x="199.6" y="766.3" width="11.900000000000006" height="92.30000000000007" fill="#484848" stroke="#333333" stroke-width="0.6"/>
<line x1="220.45" y1="792.3" x2="220.45" y2="775.6" stroke="#4e4e4e" stroke-width="1.5"/>
<line x1="217.2" y1="775.6" x2="223.7" y2="775.6" stroke="#3a3a3a" stroke-width="1.7"/>
<rect x="214.2" y="792.3" width="12.5" height="66.30000000000007" fill="#812024" stroke="#6a171a" stroke-width="0.6"/>
<line x1="247.55" y1="799.7" x2="247.55" y2="798.4" stroke="#4e4e4e" stroke-width="1.5"/>
<line x1="244.3" y1="798.4" x2="250.8" y2="798.4" stroke="#3a3a3a" stroke-width="1.7"/>
<rect x="241.3" y="799.7" width="12.5" height="58.89999999999998" fill="#484848" stroke="#333333" stroke-width="0.6"/>
<line x1="262.75" y1="776.3" x2="262.75" y2="772.6" stroke="#4e4e4e" stroke-width="1.5"/>
<line x1="259.5" y1="772.6" x2="266.0" y2="772.6" stroke="#3a3a3a" stroke-width="1.7"/>
<rect x="256.5" y="776.3" width="12.5" height="82.30000000000007" fill="#812024" stroke="#6a171a" stroke-width="0.6"/>
<line x1="289.6" y1="727.4" x2="289.6" y2="715.4" stroke="#4e4e4e" stroke-width="1.5"/>
<line x1="286.35" y1="715.4" x2="292.85" y2="715.4" stroke="#3a3a3a" stroke-width="1.7"/>
<rect x="283.6" y="727.4" width="12.0" height="131.20000000000005" fill="#484848" stroke="#333333" stroke-width="0.6"/>
<line x1="304.75" y1="754.5" x2="304.75" y2="739.1" stroke="#4e4e4e" stroke-width="1.5"/>
<line x1="301.5" y1="739.1" x2="308.0" y2="739.1" stroke="#3a3a3a" stroke-width="1.7"/>
<rect x="298.5" y="754.5" width="12.5" height="104.10000000000002" fill="#812024" stroke="#6a171a" stroke-width="0.6"/>
<line x1="331.6" y1="730" x2="331.6" y2="722.6" stroke="#4e4e4e" stroke-width="1.5"/>
<line x1="328.35" y1="722.6" x2="334.85" y2="722.6" stroke="#3a3a3a" stroke-width="1.7"/>
<rect x="325.6" y="730" width="12.0" height="128.60000000000002" fill="#484848" stroke="#333333" stroke-width="0.6"/>
<line x1="346.55" y1="731.4" x2="346.55" y2="727.1" stroke="#4e4e4e" stroke-width="1.5"/>
<line x1="343.3" y1="727.1" x2="349.8" y2="727.1" stroke="#3a3a3a" stroke-width="1.7"/>
<rect x="340.3" y="731.4" width="12.5" height="127.20000000000005" fill="#812024" stroke="#6a171a" stroke-width="0.6"/>
<line x1="242.4" y1="764.4" x2="264" y2="764.4" stroke="#444" stroke-width="1.5"/>
<polygon points="249.90,755.20 250.66,756.75 252.37,757.00 251.14,758.20 251.43,759.90 249.90,759.10 248.37,759.90 248.66,758.20 247.43,757.00 249.14,756.75" fill="#111" stroke="#111" stroke-width="0.5" stroke-linejoin="round"/>
<polygon points="256.50,755.20 257.26,756.75 258.97,757.00 257.74,758.20 258.03,759.90 256.50,759.10 254.97,759.90 255.26,758.20 254.03,757.00 255.74,756.75" fill="#111" stroke="#111" stroke-width="0.5" stroke-linejoin="round"/>
<text x="130.0" y="872.4" font-size="11.6" text-anchor="middle" fill="#1e1e1e" textLength="34.5" lengthAdjust="spacingAndGlyphs" >74 kDa</text>
<text x="171.7" y="872.4" font-size="11.6" text-anchor="middle" fill="#1e1e1e" textLength="34.5" lengthAdjust="spacingAndGlyphs" >50 kDa</text>
<text x="213.14999999999998" y="872.4" font-size="11.6" text-anchor="middle" fill="#1e1e1e" textLength="34.5" lengthAdjust="spacingAndGlyphs" >35 kDa</text>
<text x="255.15" y="872.4" font-size="11.6" text-anchor="middle" fill="#1e1e1e" textLength="34.5" lengthAdjust="spacingAndGlyphs" >47 kDa</text>
<text x="297.3" y="872.4" font-size="11.6" text-anchor="middle" fill="#1e1e1e" textLength="34.5" lengthAdjust="spacingAndGlyphs" >72 kDa</text>
<text x="339.20000000000005" y="872.4" font-size="11.6" text-anchor="middle" fill="#1e1e1e" textLength="34.5" lengthAdjust="spacingAndGlyphs" >50 kDa</text>
<line x1="114.5" y1="882" x2="185" y2="882" stroke="#383838" stroke-width="1.3"/>
<line x1="199.6" y1="882" x2="311.5" y2="882" stroke="#383838" stroke-width="1.3"/>
<line x1="324.3" y1="882" x2="354" y2="882" stroke="#383838" stroke-width="1.3"/>
<text x="150.2" y="894.6" font-size="13.2" text-anchor="middle" fill="#1e1e1e" >D1</text>
<text x="255.5" y="894.6" font-size="13.2" text-anchor="middle" fill="#1e1e1e" >D2</text>
<text x="339.5" y="894.6" font-size="13.2" text-anchor="middle" fill="#1e1e1e" >D3</text>
<text transform="translate(70.6,774.5500000000001) rotate(-90)" x="0" y="0" font-size="13.4" text-anchor="middle" fill="#1e1e1e" textLength="80" lengthAdjust="spacingAndGlyphs" style="stroke-width:0.12px">Relative Ratio</text>
<rect x="366.4" y="711.9" width="22.5" height="13.4" fill="#484848" />
<rect x="366.4" y="734.3" width="22.5" height="13.2" fill="#812024" />
<text x="393.9" y="722" font-size="10" text-anchor="start" fill="#1e1e1e" textLength="27.5" lengthAdjust="spacingAndGlyphs" style="stroke-width:0.1px">CONT</text>
<text x="393.9" y="744" font-size="10" text-anchor="start" fill="#1e1e1e" textLength="21.5" lengthAdjust="spacingAndGlyphs" style="stroke-width:0.1px">iuGC</text>
<rect x="489.6" y="252.9" width="226.8" height="18.5" fill="#b0b0b0"/>
<defs><linearGradient id="g1" x1="0" x2="1" y1="0" y2="0"><stop offset="0" stop-color="#383838"/><stop offset="0.07" stop-color="#626262"/><stop offset="0.22" stop-color="#8a8a8a"/><stop offset="0.55" stop-color="#a0a0a0"/><stop offset="1" stop-color="#b0b0b0"/></linearGradient></defs><rect x="489.6" y="252.9" width="226.8" height="18.5" fill="url(#g1)"/>
<rect x="522.0" y="252.9" width="6" height="18.5" fill="#fff" opacity="0.09" filter="url(#bl)"/><rect x="559.5" y="252.9" width="6" height="18.5" fill="#fff" opacity="0.09" filter="url(#bl)"/><rect x="597.8" y="252.9" width="6" height="18.5" fill="#fff" opacity="0.09" filter="url(#bl)"/><rect x="636.0" y="252.9" width="6" height="18.5" fill="#fff" opacity="0.09" filter="url(#bl)"/><rect x="673.8" y="252.9" width="6" height="18.5" fill="#fff" opacity="0.09" filter="url(#bl)"/>
<rect x="492.6" y="260.1" width="27.8" height="4.4" rx="3.3" ry="2.2" fill="#222222" opacity="1" filter="url(#bl)"/>
<rect x="528.0" y="259.6" width="30.3" height="4.4" rx="3.6" ry="2.2" fill="#222222" opacity="0.95" filter="url(#bl)"/>
<rect x="565.0" y="259.4" width="29.4" height="4.2" rx="3.5" ry="2.1" fill="#222222" opacity="0.9" filter="url(#bl)"/>
<rect x="603.7" y="258.4" width="29.3" height="4.0" rx="3.5" ry="2.0" fill="#222222" opacity="0.85" filter="url(#bl)"/>
<rect x="642.3" y="258.7" width="29.3" height="4.4" rx="3.5" ry="2.2" fill="#222222" opacity="0.9" filter="url(#bl)"/>
<rect x="680.0" y="258.3" width="28.6" height="4.0" rx="3.4" ry="2.0" fill="#222222" opacity="0.8" filter="url(#bl)"/>
<rect x="489.6" y="252.9" width="226.8" height="18.5" fill="none" stroke="#151515" stroke-width="1.8"/>
<rect x="489.6" y="275.6" width="226.8" height="16.9" fill="#d0d0d0"/>

<rect x="522.0" y="275.6" width="6" height="16.9" fill="#fff" opacity="0.09" filter="url(#bl)"/><rect x="559.5" y="275.6" width="6" height="16.9" fill="#fff" opacity="0.09" filter="url(#bl)"/><rect x="597.8" y="275.6" width="6" height="16.9" fill="#fff" opacity="0.09" filter="url(#bl)"/><rect x="636.0" y="275.6" width="6" height="16.9" fill="#fff" opacity="0.09" filter="url(#bl)"/><rect x="673.8" y="275.6" width="6" height="16.9" fill="#fff" opacity="0.09" filter="url(#bl)"/>
<rect x="492.6" y="279.6" width="27.8" height="4.8" rx="3.3" ry="2.4" fill="#222222" opacity="1" filter="url(#bl)"/>
<rect x="529.0" y="280.5" width="29.3" height="3.4" rx="3.5" ry="1.7" fill="#222222" opacity="0.85" filter="url(#bl)"/>
<rect x="568.8" y="279.6" width="27.2" height="4.2" rx="3.3" ry="2.1" fill="#222222" opacity="0.95" filter="url(#bl)"/>
<rect x="606.8" y="280.2" width="27.8" height="4.0" rx="3.3" ry="2.0" fill="#222222" opacity="0.9" filter="url(#bl)"/>
<rect x="645.4" y="280.8" width="27.6" height="5.0" rx="3.3" ry="2.5" fill="#222222" opacity="1" filter="url(#bl)"/>
<rect x="683.0" y="282.1" width="27.0" height="4.2" rx="3.2" ry="2.1" fill="#222222" opacity="0.9" filter="url(#bl)"/>
<rect x="489.6" y="275.6" width="226.8" height="16.9" fill="none" stroke="#151515" stroke-width="1.8"/>
<rect x="489.6" y="300.6" width="226.8" height="18.1" fill="#b6b6b6"/>

<rect x="522.0" y="300.6" width="6" height="18.1" fill="#fff" opacity="0.09" filter="url(#bl)"/><rect x="559.5" y="300.6" width="6" height="18.1" fill="#fff" opacity="0.09" filter="url(#bl)"/><rect x="597.8" y="300.6" width="6" height="18.1" fill="#fff" opacity="0.09" filter="url(#bl)"/><rect x="636.0" y="300.6" width="6" height="18.1" fill="#fff" opacity="0.09" filter="url(#bl)"/><rect x="673.8" y="300.6" width="6" height="18.1" fill="#fff" opacity="0.09" filter="url(#bl)"/>
<rect x="492.6" y="303.8" width="30.0" height="5.2" rx="3.6" ry="2.6" fill="#222222" opacity="1" filter="url(#bl)"/>
<rect x="529.6" y="304.0" width="30.0" height="4.8" rx="3.6" ry="2.4" fill="#222222" opacity="0.95" filter="url(#bl)"/>
<rect x="567.6" y="303.9" width="29.9" height="5.4" rx="3.6" ry="2.7" fill="#222222" opacity="1" filter="url(#bl)"/>
<rect x="604.6" y="304.7" width="30.0" height="4.6" rx="3.6" ry="2.3" fill="#222222" opacity="0.95" filter="url(#bl)"/>
<rect x="641.6" y="304.8" width="30.0" height="4.8" rx="3.6" ry="2.4" fill="#222222" opacity="0.95" filter="url(#bl)"/>
<rect x="677.8" y="304.9" width="29.9" height="4.6" rx="3.6" ry="2.3" fill="#222222" opacity="0.95" filter="url(#bl)"/>
<rect x="489.6" y="300.6" width="226.8" height="18.1" fill="none" stroke="#151515" stroke-width="1.8"/>
<rect x="489.6" y="321.9" width="226.8" height="18.7" fill="#bcbcbc"/>

<rect x="522.0" y="321.9" width="6" height="18.7" fill="#fff" opacity="0.09" filter="url(#bl)"/><rect x="559.5" y="321.9" width="6" height="18.7" fill="#fff" opacity="0.09" filter="url(#bl)"/><rect x="597.8" y="321.9" width="6" height="18.7" fill="#fff" opacity="0.09" filter="url(#bl)"/><rect x="636.0" y="321.9" width="6" height="18.7" fill="#fff" opacity="0.09" filter="url(#bl)"/><rect x="673.8" y="321.9" width="6" height="18.7" fill="#fff" opacity="0.09" filter="url(#bl)"/>
<rect x="492.6" y="329.5" width="29.4" height="3.8" rx="3.5" ry="1.9" fill="#3a3a3a" opacity="0.92" filter="url(#bl)" transform="rotate(-1.5,507.3,331.4)"/>
<rect x="530.0" y="329.8" width="30.0" height="3.6" rx="3.6" ry="1.8" fill="#3a3a3a" opacity="0.88" filter="url(#bl)"/>
<rect x="567.6" y="328.8" width="29.4" height="3.6" rx="3.5" ry="1.8" fill="#3a3a3a" opacity="0.88" filter="url(#bl)"/>
<rect x="604.6" y="326.9" width="30.0" height="4.6" rx="3.6" ry="2.3" fill="#222222" opacity="1" filter="url(#bl)"/>
<rect x="643.0" y="327.9" width="30.0" height="5.0" rx="3.6" ry="2.5" fill="#222222" opacity="1" filter="url(#bl)"/>
<rect x="681.0" y="329.1" width="29.0" height="4.6" rx="3.5" ry="2.3" fill="#222222" opacity="0.95" filter="url(#bl)"/>
<rect x="489.6" y="321.9" width="226.8" height="18.7" fill="none" stroke="#151515" stroke-width="1.8"/>
<rect x="489.6" y="344.3" width="226.8" height="18.0" fill="#cdcdcd"/>

<rect x="522.0" y="344.3" width="6" height="18.0" fill="#fff" opacity="0.09" filter="url(#bl)"/><rect x="559.5" y="344.3" width="6" height="18.0" fill="#fff" opacity="0.09" filter="url(#bl)"/><rect x="597.8" y="344.3" width="6" height="18.0" fill="#fff" opacity="0.09" filter="url(#bl)"/><rect x="636.0" y="344.3" width="6" height="18.0" fill="#fff" opacity="0.09" filter="url(#bl)"/><rect x="673.8" y="344.3" width="6" height="18.0" fill="#fff" opacity="0.09" filter="url(#bl)"/>
<rect x="492.6" y="350.6" width="16.4" height="4.4" rx="2.0" ry="2.2" fill="#222222" opacity="0.95" filter="url(#bl)"/>
<rect x="507.0" y="351.2" width="14.5" height="4.0" rx="1.7" ry="2.0" fill="#222222" opacity="0.9" filter="url(#bl)"/>
<rect x="531.0" y="351.6" width="29.0" height="4.4" rx="3.5" ry="2.2" fill="#222222" opacity="0.95" filter="url(#bl)"/>
<rect x="569.6" y="353.5" width="28.4" height="4.2" rx="3.4" ry="2.1" fill="#222222" opacity="0.9" filter="url(#bl)"/>
<rect x="609.6" y="354.7" width="28.0" height="4.2" rx="3.4" ry="2.1" fill="#222222" opacity="0.9" filter="url(#bl)"/>
<rect x="648.0" y="354.7" width="27.0" height="4.2" rx="3.2" ry="2.1" fill="#222222" opacity="0.9" filter="url(#bl)"/>
<rect x="684.0" y="355.3" width="26.0" height="4.2" rx="3.1" ry="2.1" fill="#222222" opacity="0.9" filter="url(#bl)"/>
<rect x="489.6" y="344.3" width="226.8" height="18.0" fill="none" stroke="#151515" stroke-width="1.8"/>
<rect x="489.6" y="370.3" width="226.8" height="18.8" fill="#d0d0d0"/>

<rect x="522.0" y="370.3" width="6" height="18.8" fill="#fff" opacity="0.09" filter="url(#bl)"/><rect x="559.5" y="370.3" width="6" height="18.8" fill="#fff" opacity="0.09" filter="url(#bl)"/><rect x="597.8" y="370.3" width="6" height="18.8" fill="#fff" opacity="0.09" filter="url(#bl)"/><rect x="636.0" y="370.3" width="6" height="18.8" fill="#fff" opacity="0.09" filter="url(#bl)"/><rect x="673.8" y="370.3" width="6" height="18.8" fill="#fff" opacity="0.09" filter="url(#bl)"/>
<rect x="492.6" y="380.7" width="27.8" height="2.8" rx="3.3" ry="1.4" fill="#3a3a3a" opacity="0.75" filter="url(#bl)"/>
<rect x="529.6" y="378.6" width="30.9" height="4.6" rx="3.7" ry="2.3" fill="#222222" opacity="0.95" filter="url(#bl)"/>
<rect x="568.8" y="377.8" width="30.8" height="4.6" rx="3.7" ry="2.3" fill="#222222" opacity="0.95" filter="url(#bl)"/>
<rect x="605.2" y="376.3" width="29.4" height="3.8" rx="3.5" ry="1.9" fill="#3a3a3a" opacity="0.88" filter="url(#bl)"/>
<rect x="644.0" y="376.4" width="29.0" height="3.8" rx="3.5" ry="1.9" fill="#3a3a3a" opacity="0.88" filter="url(#bl)"/>
<rect x="682.4" y="376.0" width="28.2" height="3.8" rx="3.4" ry="1.9" fill="#3a3a3a" opacity="0.88" filter="url(#bl)"/>
<rect x="489.6" y="370.3" width="226.8" height="18.8" fill="none" stroke="#151515" stroke-width="1.8"/>
<rect x="489.6" y="397.2" width="226.8" height="17.7" fill="#dfdfdf"/>

<rect x="522.0" y="397.2" width="6" height="17.7" fill="#fff" opacity="0.09" filter="url(#bl)"/><rect x="559.5" y="397.2" width="6" height="17.7" fill="#fff" opacity="0.09" filter="url(#bl)"/><rect x="597.8" y="397.2" width="6" height="17.7" fill="#fff" opacity="0.09" filter="url(#bl)"/><rect x="636.0" y="397.2" width="6" height="17.7" fill="#fff" opacity="0.09" filter="url(#bl)"/><rect x="673.8" y="397.2" width="6" height="17.7" fill="#fff" opacity="0.09" filter="url(#bl)"/>
<rect x="492.6" y="402.6" width="34.0" height="5.6" rx="4.1" ry="2.8" fill="#505050" opacity="0.8" filter="url(#bl)"/>
<rect x="531.0" y="403.0" width="32.6" height="5.2" rx="3.9" ry="2.6" fill="#505050" opacity="0.8" filter="url(#bl)"/>
<rect x="567.6" y="403.0" width="33.0" height="5.6" rx="4.0" ry="2.8" fill="#505050" opacity="0.8" filter="url(#bl)"/>
<rect x="604.6" y="403.1" width="34.6" height="5.8" rx="4.2" ry="2.9" fill="#505050" opacity="0.82" filter="url(#bl)"/>
<rect x="641.6" y="403.5" width="34.6" height="5.8" rx="4.2" ry="2.9" fill="#505050" opacity="0.82" filter="url(#bl)"/>
<rect x="680.0" y="404.2" width="33.2" height="5.2" rx="4.0" ry="2.6" fill="#505050" opacity="0.8" filter="url(#bl)"/>
<rect x="489.6" y="397.2" width="226.8" height="17.7" fill="none" stroke="#151515" stroke-width="1.8"/>
<text x="465" y="250.7" font-size="12.4" text-anchor="start" fill="#1a1a1a" >kDa</text>
<text x="465.5" y="274.2" font-size="12.4" text-anchor="start" fill="#1a1a1a" >74 -</text>
<text x="465.5" y="297.6" font-size="12.4" text-anchor="start" fill="#1a1a1a" >50 -</text>
<text x="465.5" y="333.7" font-size="12.4" text-anchor="start" fill="#1a1a1a" >72 -</text>
<text x="465.5" y="358" font-size="12.4" text-anchor="start" fill="#1a1a1a" >47 -</text>
<text x="465.5" y="381.4" font-size="12.4" text-anchor="start" fill="#1a1a1a" >35 -</text>
<text x="465.5" y="410.4" font-size="12.4" text-anchor="start" fill="#1a1a1a" >50 -</text>
<text x="465.5" y="440.8" font-size="12.4" text-anchor="start" fill="#1a1a1a" >55 -</text>
<line x1="721.2" y1="255" x2="721.2" y2="291.7" stroke="#111" stroke-width="1.6"/>
<line x1="721.2" y1="301.7" x2="721.2" y2="361.7" stroke="#111" stroke-width="1.6"/>
<text x="726.3" y="279.4" font-size="14.4" text-anchor="start" fill="#1a1a1a" >D1</text>
<text x="726.3" y="338.4" font-size="14.4" text-anchor="start" fill="#1a1a1a" >D2</text>
<text x="725.2" y="385.2" font-size="14.4" text-anchor="start" fill="#1a1a1a" >D3</text>
<text x="725.4" y="411.1" font-size="14.4" text-anchor="start" fill="#1a1a1a" >Tub</text>
<line x1="492" y1="417.6" x2="596.8" y2="417.6" stroke="#111" stroke-width="1.8"/>
<line x1="610.7" y1="417.4" x2="711.6" y2="417.4" stroke="#111" stroke-width="1.8"/>
<text x="539.5" y="431.4" font-size="14.4" text-anchor="middle" fill="#1a1a1a" >CONT</text>
<text x="656.9" y="431" font-size="14.4" text-anchor="middle" fill="#1a1a1a" >iuGC</text>
<line x1="715.5" y1="383" x2="719" y2="383" stroke="#111" stroke-width="1.3"/>
<line x1="715.5" y1="407.5" x2="719" y2="407.5" stroke="#111" stroke-width="1.3"/>
<rect x="490.8" y="713.6" width="227.2" height="16.3" fill="#c8c8c8"/>

<rect x="525.5" y="713.6" width="6" height="16.3" fill="#fff" opacity="0.09" filter="url(#bl)"/><rect x="563.2" y="713.6" width="6" height="16.3" fill="#fff" opacity="0.09" filter="url(#bl)"/><rect x="601.0" y="713.6" width="6" height="16.3" fill="#fff" opacity="0.09" filter="url(#bl)"/><rect x="639.0" y="713.6" width="6" height="16.3" fill="#fff" opacity="0.09" filter="url(#bl)"/><rect x="676.5" y="713.6" width="6" height="16.3" fill="#fff" opacity="0.09" filter="url(#bl)"/>
<rect x="494.8" y="719.6" width="29.9" height="4.4" rx="3.6" ry="2.2" fill="#333" opacity="0.9" filter="url(#bl)"/>
<rect x="533.0" y="720.5" width="29.7" height="3.8" rx="3.6" ry="1.9" fill="#333" opacity="0.8" filter="url(#bl)"/>
<rect x="571.4" y="721.0" width="29.2" height="4.4" rx="3.5" ry="2.2" fill="#333" opacity="0.85" filter="url(#bl)"/>
<rect x="609.3" y="722.6" width="27.4" height="3.6" rx="3.3" ry="1.8" fill="#3a3a3a" opacity="0.8" filter="url(#bl)"/>
<rect x="647.3" y="722.6" width="27.4" height="3.6" rx="3.3" ry="1.8" fill="#3a3a3a" opacity="0.8" filter="url(#bl)"/>
<rect x="684.0" y="721.9" width="27.4" height="3.8" rx="3.3" ry="1.9" fill="#3a3a3a" opacity="0.85" filter="url(#bl)"/>
<rect x="490.8" y="713.6" width="227.2" height="16.3" fill="none" stroke="#151515" stroke-width="1.8"/>
<rect x="490.8" y="733.1" width="227.2" height="18.1" fill="#a4a4a4"/>

<rect x="525.5" y="733.1" width="6" height="18.1" fill="#fff" opacity="0.09" filter="url(#bl)"/><rect x="563.2" y="733.1" width="6" height="18.1" fill="#fff" opacity="0.09" filter="url(#bl)"/><rect x="601.0" y="733.1" width="6" height="18.1" fill="#fff" opacity="0.09" filter="url(#bl)"/><rect x="639.0" y="733.1" width="6" height="18.1" fill="#fff" opacity="0.09" filter="url(#bl)"/><rect x="676.5" y="733.1" width="6" height="18.1" fill="#fff" opacity="0.09" filter="url(#bl)"/>
<rect x="494.8" y="739.2" width="29.9" height="3.8" rx="3.6" ry="1.9" fill="#404040" opacity="0.8" filter="url(#bl)"/>
<rect x="531.6" y="739.2" width="29.6" height="3.8" rx="3.6" ry="1.9" fill="#404040" opacity="0.8" filter="url(#bl)"/>
<rect x="569.5" y="739.2" width="29.9" height="3.8" rx="3.6" ry="1.9" fill="#404040" opacity="0.8" filter="url(#bl)"/>
<rect x="607.8" y="739.3" width="28.9" height="3.6" rx="3.5" ry="1.8" fill="#404040" opacity="0.75" filter="url(#bl)"/>
<rect x="646.7" y="739.2" width="28.0" height="3.8" rx="3.4" ry="1.9" fill="#404040" opacity="0.8" filter="url(#bl)"/>
<rect x="684.6" y="738.9" width="26.8" height="3.4" rx="3.2" ry="1.7" fill="#404040" opacity="0.75" filter="url(#bl)"/>
<rect x="490.8" y="733.1" width="227.2" height="18.1" fill="none" stroke="#151515" stroke-width="1.8"/>
<rect x="490.8" y="760.5" width="227.2" height="17.8" fill="#cbcbcb"/>

<rect x="525.5" y="760.5" width="6" height="17.8" fill="#fff" opacity="0.09" filter="url(#bl)"/><rect x="563.2" y="760.5" width="6" height="17.8" fill="#fff" opacity="0.09" filter="url(#bl)"/><rect x="601.0" y="760.5" width="6" height="17.8" fill="#fff" opacity="0.09" filter="url(#bl)"/><rect x="639.0" y="760.5" width="6" height="17.8" fill="#fff" opacity="0.09" filter="url(#bl)"/><rect x="676.5" y="760.5" width="6" height="17.8" fill="#fff" opacity="0.09" filter="url(#bl)"/>
<rect x="495.8" y="767.6" width="29.5" height="4.8" rx="3.5" ry="2.4" fill="#222222" opacity="1" filter="url(#bl)"/>
<rect x="534.0" y="767.7" width="28.7" height="4.6" rx="3.4" ry="2.3" fill="#222222" opacity="1" filter="url(#bl)"/>
<rect x="570.4" y="767.6" width="28.1" height="4.8" rx="3.4" ry="2.4" fill="#222222" opacity="1" filter="url(#bl)"/>
<rect x="607.8" y="766.7" width="28.9" height="4.6" rx="3.5" ry="2.3" fill="#222222" opacity="1" filter="url(#bl)"/>
<rect x="645.1" y="766.7" width="29.0" height="4.6" rx="3.5" ry="2.3" fill="#222222" opacity="1" filter="url(#bl)"/>
<rect x="683.4" y="766.1" width="25.6" height="3.6" rx="3.1" ry="1.8" fill="#222222" opacity="0.85" filter="url(#bl)" transform="rotate(-2.5,696.2,767.9)"/>
<rect x="490.8" y="760.5" width="227.2" height="17.8" fill="none" stroke="#151515" stroke-width="1.8"/>
<rect x="490.8" y="782.3" width="227.2" height="17.5" fill="#c6c6c6"/>

<rect x="525.5" y="782.3" width="6" height="17.5" fill="#fff" opacity="0.09" filter="url(#bl)"/><rect x="563.2" y="782.3" width="6" height="17.5" fill="#fff" opacity="0.09" filter="url(#bl)"/><rect x="601.0" y="782.3" width="6" height="17.5" fill="#fff" opacity="0.09" filter="url(#bl)"/><rect x="639.0" y="782.3" width="6" height="17.5" fill="#fff" opacity="0.09" filter="url(#bl)"/><rect x="676.5" y="782.3" width="6" height="17.5" fill="#fff" opacity="0.09" filter="url(#bl)"/>
<rect x="494.8" y="787.9" width="29.9" height="3.8" rx="3.6" ry="1.9" fill="#3a3a3a" opacity="0.8" filter="url(#bl)"/>
<rect x="532.2" y="787.9" width="29.8" height="3.8" rx="3.6" ry="1.9" fill="#3a3a3a" opacity="0.8" filter="url(#bl)"/>
<rect x="569.5" y="787.9" width="29.9" height="3.8" rx="3.6" ry="1.9" fill="#3a3a3a" opacity="0.8" filter="url(#bl)"/>
<rect x="607.8" y="786.7" width="28.9" height="5.8" rx="3.5" ry="2.9" fill="#222222" opacity="1" filter="url(#bl)"/>
<rect x="645.1" y="786.2" width="29.0" height="5.8" rx="3.5" ry="2.9" fill="#222222" opacity="1" filter="url(#bl)"/>
<rect x="682.5" y="786.9" width="29.5" height="5.4" rx="3.5" ry="2.7" fill="#222222" opacity="1" filter="url(#bl)"/>
<rect x="490.8" y="782.3" width="227.2" height="17.5" fill="none" stroke="#151515" stroke-width="1.8"/>
<rect x="490.8" y="803.4" width="227.2" height="19.8" fill="#b2b2b2"/>

<rect x="525.5" y="803.4" width="6" height="19.8" fill="#fff" opacity="0.09" filter="url(#bl)"/><rect x="563.2" y="803.4" width="6" height="19.8" fill="#fff" opacity="0.09" filter="url(#bl)"/><rect x="601.0" y="803.4" width="6" height="19.8" fill="#fff" opacity="0.09" filter="url(#bl)"/><rect x="639.0" y="803.4" width="6" height="19.8" fill="#fff" opacity="0.09" filter="url(#bl)"/><rect x="676.5" y="803.4" width="6" height="19.8" fill="#fff" opacity="0.09" filter="url(#bl)"/>
<rect x="496.7" y="811.9" width="28.6" height="4.6" rx="3.4" ry="2.3" fill="#222222" opacity="1" filter="url(#bl)"/>
<rect x="534.7" y="811.7" width="27.3" height="3.8" rx="3.3" ry="1.9" fill="#222222" opacity="0.95" filter="url(#bl)"/>
<rect x="571.4" y="810.9" width="28.0" height="4.2" rx="3.4" ry="2.1" fill="#222222" opacity="0.95" filter="url(#bl)"/>
<rect x="609.3" y="811.4" width="27.4" height="4.0" rx="3.3" ry="2.0" fill="#222222" opacity="0.95" filter="url(#bl)"/>
<rect x="649.8" y="809.8" width="26.4" height="4.4" rx="3.2" ry="2.2" fill="#222222" opacity="1" filter="url(#bl)" transform="rotate(-2.5,663.0,812.0)"/>
<rect x="687.1" y="808.2" width="25.5" height="3.6" rx="3.1" ry="1.8" fill="#222222" opacity="0.9" filter="url(#bl)" transform="rotate(-4,699.9,810.0)"/>
<rect x="490.8" y="803.4" width="227.2" height="19.8" fill="none" stroke="#151515" stroke-width="1.8"/>
<rect x="490.8" y="831.7" width="227.2" height="18.7" fill="#c4c4c4"/>

<rect x="525.5" y="831.7" width="6" height="18.7" fill="#fff" opacity="0.09" filter="url(#bl)"/><rect x="563.2" y="831.7" width="6" height="18.7" fill="#fff" opacity="0.09" filter="url(#bl)"/><rect x="601.0" y="831.7" width="6" height="18.7" fill="#fff" opacity="0.09" filter="url(#bl)"/><rect x="639.0" y="831.7" width="6" height="18.7" fill="#fff" opacity="0.09" filter="url(#bl)"/><rect x="676.5" y="831.7" width="6" height="18.7" fill="#fff" opacity="0.09" filter="url(#bl)"/>
<rect x="492.7" y="839.7" width="30.1" height="4.6" rx="3.6" ry="2.3" fill="#333" opacity="0.9" filter="url(#bl)"/>
<rect x="531.6" y="839.8" width="30.4" height="4.4" rx="3.6" ry="2.2" fill="#333" opacity="0.9" filter="url(#bl)"/>
<rect x="570.4" y="839.5" width="30.2" height="4.6" rx="3.6" ry="2.3" fill="#333" opacity="0.9" filter="url(#bl)"/>
<rect x="608.7" y="838.9" width="31.1" height="4.4" rx="3.7" ry="2.2" fill="#333" opacity="0.9" filter="url(#bl)"/>
<rect x="647.3" y="838.8" width="30.5" height="4.6" rx="3.7" ry="2.3" fill="#333" opacity="0.9" filter="url(#bl)"/>
<rect x="687.1" y="838.7" width="29.5" height="3.8" rx="3.5" ry="1.9" fill="#3c3c3c" opacity="0.75" filter="url(#bl)"/>
<rect x="490.8" y="831.7" width="227.2" height="18.7" fill="none" stroke="#151515" stroke-width="1.8"/>
<rect x="490.8" y="857.2" width="227.2" height="17.5" fill="#dedede"/>

<rect x="525.5" y="857.2" width="6" height="17.5" fill="#fff" opacity="0.09" filter="url(#bl)"/><rect x="563.2" y="857.2" width="6" height="17.5" fill="#fff" opacity="0.09" filter="url(#bl)"/><rect x="601.0" y="857.2" width="6" height="17.5" fill="#fff" opacity="0.09" filter="url(#bl)"/><rect x="639.0" y="857.2" width="6" height="17.5" fill="#fff" opacity="0.09" filter="url(#bl)"/><rect x="676.5" y="857.2" width="6" height="17.5" fill="#fff" opacity="0.09" filter="url(#bl)"/>
<rect x="494.8" y="863.6" width="33.0" height="5.4" rx="4.0" ry="2.7" fill="#474747" opacity="0.82" filter="url(#bl)"/>
<rect x="533.1" y="864.3" width="31.1" height="4.4" rx="3.7" ry="2.2" fill="#474747" opacity="0.8" filter="url(#bl)"/>
<rect x="569.5" y="863.7" width="33.6" height="5.2" rx="4.0" ry="2.6" fill="#474747" opacity="0.82" filter="url(#bl)"/>
<rect x="606.2" y="863.4" width="33.6" height="5.2" rx="4.0" ry="2.6" fill="#474747" opacity="0.82" filter="url(#bl)"/>
<rect x="645.1" y="863.0" width="32.7" height="5.2" rx="3.9" ry="2.6" fill="#474747" opacity="0.82" filter="url(#bl)"/>
<rect x="682.5" y="862.5" width="29.5" height="4.6" rx="3.5" ry="2.3" fill="#474747" opacity="0.8" filter="url(#bl)"/>
<rect x="490.8" y="857.2" width="227.2" height="17.5" fill="none" stroke="#151515" stroke-width="1.8"/>
<text x="466" y="708.8" font-size="12.4" text-anchor="start" fill="#1a1a1a" >kDa</text>
<text x="466.5" y="733.3" font-size="12.4" text-anchor="start" fill="#1a1a1a" >74 -</text>
<text x="466.5" y="755.6" font-size="12.4" text-anchor="start" fill="#1a1a1a" >50 -</text>
<text x="466.5" y="791.8" font-size="12.4" text-anchor="start" fill="#1a1a1a" >72 -</text>
<text x="466.5" y="817.3" font-size="12.4" text-anchor="start" fill="#1a1a1a" >47 -</text>
<text x="466.5" y="840.3" font-size="12.4" text-anchor="start" fill="#1a1a1a" >35 -</text>
<text x="466.5" y="869.7" font-size="12.4" text-anchor="start" fill="#1a1a1a" >50 -</text>
<text x="466.5" y="899.2" font-size="12.4" text-anchor="start" fill="#1a1a1a" >55 -</text>
<line x1="722.8" y1="713.9" x2="722.8" y2="750.4" stroke="#111" stroke-width="1.6"/>
<line x1="722.8" y1="761.6" x2="722.8" y2="822.1" stroke="#111" stroke-width="1.6"/>
<text x="728.5" y="738.2" font-size="14.4" text-anchor="start" fill="#1a1a1a" >D1</text>
<text x="728.5" y="797.6" font-size="14.4" text-anchor="start" fill="#1a1a1a" >D2</text>
<text x="726.5" y="846.9" font-size="14.4" text-anchor="start" fill="#1a1a1a" >D3</text>
<text x="726.5" y="870.9" font-size="14.4" text-anchor="start" fill="#1a1a1a" >Tub</text>
<line x1="493.6" y1="878.6" x2="598.5" y2="878.6" stroke="#111" stroke-width="1.8"/>
<line x1="613.7" y1="878.7" x2="714.6" y2="878.7" stroke="#111" stroke-width="1.8"/>
<text x="540.3" y="892.4" font-size="14.4" text-anchor="middle" fill="#1a1a1a" >CONT</text>
<text x="659.8" y="892.8" font-size="14.4" text-anchor="middle" fill="#1a1a1a" >iuGC</text>
<line x1="717" y1="842" x2="721" y2="842" stroke="#111" stroke-width="1.3"/>
<line x1="717" y1="866" x2="721" y2="866" stroke="#111" stroke-width="1.3"/>
</svg></body></html>
